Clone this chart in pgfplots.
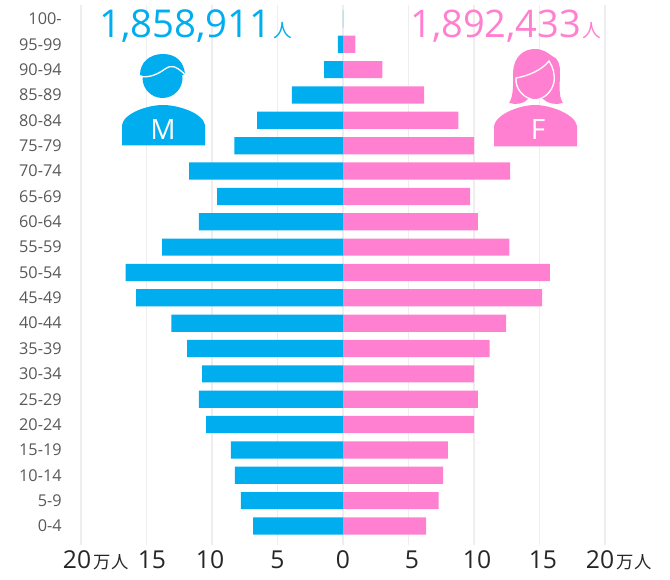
\documentclass[border=0pt]{standalone}
\usepackage{pgfplots}
\pgfplotsset{compat=1.18}
\usepackage{pgfplotstable}
\usepackage{fontspec}
\setmainfont{Open Sans}
\newfontfamily\cjk{Noto Sans CJK JP}
\definecolor{mblue}{HTML}{00AEEF}
\definecolor{fpink}{HTML}{FF80D0}
\definecolor{ylab}{HTML}{595959}
\definecolor{gridc}{HTML}{EFEDED}
\pgfplotstableread{
row male female
0 6.87 6.35
1 7.8 7.3
2 8.25 7.65
3 8.55 8.0
4 10.45 10.0
5 11.0 10.3
6 10.75 10.0
7 11.9 11.2
8 13.1 12.45
9 15.8 15.2
10 16.6 15.8
11 13.8 12.7
12 11.0 10.3
13 9.6 9.7
14 11.75 12.75
15 8.3 10.0
16 6.55 8.8
17 3.9 6.2
18 1.45 3.0
19 0.4 0.95
20 0.01 0.01
}\pop
\begin{document}
\begin{tikzpicture}
\begin{scope}[x=0.75pt,y=-0.75pt,yshift=435pt]
\useasboundingbox (0,0) rectangle (670,580);
\coordinate (axsw) at (81,545);
\end{scope}
\begin{axis}[
  at={(axsw)}, anchor=south west,
  scale only axis, width=393pt, height=405pt,
  xmin=-20, xmax=20, ymin=-0.75, ymax=20.55,
  clip=false,
  axis line style={draw=none},
  tick style={draw=none},
  xtick={-20,-15,-10,-5,0,5,10,15,20},
  xticklabels={
    \hspace*{-6pt}20\rlap{\kern2pt\fontsize{13}{13}\selectfont\cjk 万人},
    \hspace*{8.2pt}15,
    \hspace*{-3pt}10,
    5,
    0,
    \hspace*{5.2pt}5,
    \hspace*{4.5pt}10,
    \hspace*{5.2pt}15,
    \hspace*{-7.5pt}20\rlap{\kern2pt\fontsize{13}{13}\selectfont\cjk 万人}},
  ytick={0,...,20},
  yticklabels={0-4,5-9,10-14,15-19,20-24,25-29,30-34,35-39,40-44,45-49,50-54,55-59,60-64,65-69,70-74,75-79,80-84,85-89,90-94,95-99,100-},
  xmajorgrids,
  grid style={gridc,line width=0.9pt},
  xticklabel style={font=\fontsize{18.5}{20}\selectfont, text=black!85, yshift=-1pt},
  yticklabel style={font=\fontsize{12.2}{13}\selectfont, text=ylab, xshift=-11pt},
  /pgf/number format/assume math mode=true,
]
\addplot[xbar, bar shift=0pt, bar width=12.9pt, fill=mblue, draw=none] table[x expr=-\thisrow{male}, y=row] {\pop};
\addplot[xbar, bar shift=0pt, bar width=12.9pt, fill=fpink, draw=none] table[x=female, y=row] {\pop};
\end{axis}
\begin{scope}[x=0.75pt,y=-0.75pt,yshift=435pt]
% titles
\node[anchor=base west, inner sep=0pt, text=mblue, font=\fontsize{28.8}{30}\selectfont] at (99,38) {1,858,911\kern1pt{\fontsize{14}{14}\selectfont\cjk 人}};
\node[anchor=base west, inner sep=0pt, text=fpink, font=\fontsize{28.5}{30}\selectfont] at (410,38) {1,892,433\kern1pt{\fontsize{14}{14}\selectfont\cjk 人}};
% male icon
\fill[mblue] (162.5,78) circle (20);
\fill[mblue] (140,75) .. controls (140,62) and (150,54) .. (163,54) .. controls (176,54) and (184,62) .. (185,74) -- (162,82) -- cycle;
\draw[white,line width=1pt] (140,76.5) .. controls (150,78) and (158,74) .. (165,69) .. controls (171,65) and (175,65) .. (185,74.5);
\fill[mblue] (122,145.5) -- (122,125) .. controls (124,113) and (148,105) .. (163,105) .. controls (178,105) and (203,113) .. (205,125) -- (205,145.5) -- cycle;
\node[text=white, font=\fontsize{21}{21}\selectfont, inner sep=0pt] at (163,130) {M};
% female icon
\fill[fpink] (509,103) .. controls (514,96) and (513,82) .. (513,72) .. controls (514,57) and (523,49) .. (535,49) .. controls (543,49) and (548,53) .. (552,56) .. controls (558,58) and (560,64) .. (560,72) .. controls (560,84) and (558,96) .. (563,103) .. controls (556,105) and (548,104) .. (543,99) -- (528,99) .. controls (524,104) and (516,105) .. (509,103) -- cycle;
\draw[white,line width=1pt] (516,78) .. controls (528,76) and (542,70) .. (549,61) .. controls (553,67) and (555,74) .. (554,82) .. controls (552,92) and (544,99) .. (535,100) .. controls (525,99) and (515,90) .. (516,78) -- cycle;
\fill[fpink] (494,146.5) -- (494,126) .. controls (496,114) and (520,105) .. (535,105) .. controls (550,105) and (575,114) .. (577,126) -- (577,146.5) -- cycle;
\node[text=white, font=\fontsize{21}{21}\selectfont, inner sep=0pt] at (538,130) {F};
\end{scope}
\end{tikzpicture}
\end{document}
